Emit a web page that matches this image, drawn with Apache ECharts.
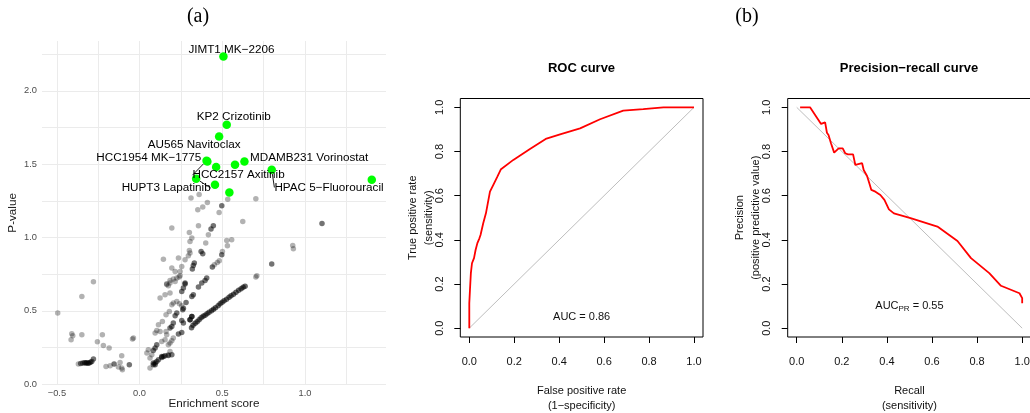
<!DOCTYPE html>
<html>
<head>
<meta charset="utf-8">
<script src="https://cdn.jsdelivr.net/npm/echarts@6/dist/echarts.min.js"></script>
<style>
  html, body { margin: 0; padding: 0; background: #fff; }
  #chart { width: 1030px; height: 413px; }
</style>
</head>
<body>
<div id="chart"></div>
<script>
// ---- (a) enrichment score vs P-value ----
// isolated drug / cell-line pairs
const pairsSparse = [
  [-0.279,0.699],[-0.349,0.599],[-0.495,0.485],[-0.41,0.344],[-0.404,0.331],[-0.414,0.303],
  [-0.349,0.337],[-0.225,0.337],[-0.255,0.29],[-0.219,0.265],[-0.184,0.247],[-0.043,0.308],
  [-0.108,0.194],[-0.118,0.149],[-0.37,0.138],[-0.203,0.121],[-0.178,0.126],[-0.128,0.117],
  [-0.108,0.11],[-0.104,0.099],[-0.037,0.315],
  [0.311,1.269],[0.36,1.294],[0.703,1.264],[0.533,1.262],[0.41,1.239],[0.382,1.208],[0.352,1.19],
  [0.481,1.171],[0.624,1.11],[0.195,1.065],[0.356,1.08],[0.301,1.035],[0.416,1.019],[0.316,0.997],
  [0.305,0.973],[0.4,0.963],[0.527,0.98],[0.557,0.985],[0.531,0.944],[0.301,0.912],[0.305,0.894],
  [0.501,0.905],[0.144,0.853],[0.235,0.86],[0.275,0.849],[0.295,0.876],[0.482,0.842],[0.47,0.83],
  [0.452,0.815],[0.195,0.792],[0.255,0.803],[0.215,0.769],[0.245,0.769],[0.184,0.708],[0.204,0.717],
  [0.225,0.724],[0.245,0.74],[0.239,0.731],[0.164,0.685],[0.174,0.671],[0.709,0.74],[0.703,0.731],
  [0.164,0.68],[0.184,0.69],[0.215,0.701],[0.184,0.622],[0.154,0.61],[0.124,0.588],[0.225,0.564],
  [0.204,0.554],[0.195,0.542],[0.241,0.549],[0.255,0.535],[0.18,0.496],[0.16,0.474],[0.138,0.428],
  [0.114,0.406],[0.104,0.367],[0.124,0.36],[0.094,0.349],[0.16,0.36],[0.164,0.337],[0.154,0.303],
  [0.134,0.292],[0.204,0.315],[0.195,0.297],[0.184,0.281],[0.174,0.269],[0.053,0.235],[0.044,0.213],
  [0.074,0.201],[0.063,0.179],[0.184,0.224],[0.174,0.201],[0.063,0.11],[0.926,0.946],[0.93,0.924]
];
// pairs that sit on top of one another (several observations per spot)
const pairsStacked = [
  [-0.356,0.142],[-0.343,0.145],[-0.332,0.147],[-0.325,0.145],[-0.319,0.146],[-0.312,0.144],
  [-0.305,0.145],[-0.297,0.15],[-0.289,0.155],[-0.279,0.172],[-0.154,0.138],[-0.062,0.133],
  [0.497,1.217],[0.446,1.08],[0.432,1.058],[0.372,0.905],[0.382,0.89],[0.497,0.883],[0.331,0.826],
  [0.325,0.81],[0.44,0.799],[0.319,0.785],[0.406,0.724],[0.396,0.708],[0.275,0.683],[0.275,0.69],
  [0.265,0.656],[0.255,0.633],[0.376,0.69],[0.356,0.663],[0.325,0.61],[0.316,0.599],[0.281,0.558],
  [0.265,0.519],[0.261,0.508],[0.225,0.485],[0.215,0.467],[0.255,0.435],[0.265,0.417],[0.204,0.417],
  [0.195,0.394],[0.184,0.383],[0.255,0.353],[0.235,0.342],[0.104,0.269],[0.094,0.247],[0.083,0.23],
  [0.144,0.19],[0.134,0.183],[0.114,0.167],[0.094,0.145],[0.083,0.133],[1.103,1.096],[0.799,0.819],
  [0.316,0.462],[0.305,0.44],
  [0.083,0.145],[0.104,0.155],[0.134,0.19],[0.154,0.194],[0.174,0.196],[0.195,0.201],[0.094,0.133]
];
// the long dense run of pairs
const pairsRun = [
  [0.314,0.385],[0.323,0.402],[0.336,0.416],[0.348,0.426],[0.36,0.44],[0.372,0.453],[0.384,0.464],
  [0.396,0.47],[0.408,0.481],[0.42,0.491],[0.435,0.501],[0.447,0.511],[0.459,0.521],[0.475,0.535],
  [0.487,0.549],[0.499,0.559],[0.511,0.569],[0.526,0.579],[0.541,0.593],[0.553,0.603],[0.568,0.614],
  [0.583,0.627],[0.599,0.641],[0.614,0.651],[0.626,0.661],[0.638,0.668],[0.316,0.462],[0.305,0.44]
];
// highlighted pairs and their names
const hitPairs = [
  [0.507,2.234],[0.527,1.769],[0.481,1.689],[0.41,1.519],[0.405,1.524],[0.463,1.481],[0.577,1.496],
  [0.634,1.519],[0.799,1.462],[1.404,1.394],[0.342,1.401],[0.456,1.36],[0.543,1.307]
];
const hitNames = [
  'JIMT1 MK\u22122206','KP2 Crizotinib','AU565 Navitoclax','HCC1954 MK\u22121775','HCC2157 Axitinib','',
  '','MDAMB231 Vorinostat','HPAC 5\u2212Fluorouracil','','HUPT3 Lapatinib','',''
];
const scoreTicks = [-0.5, 0, 0.5, 1.0];
const pvalTicks = [0, 0.5, 1.0, 1.5, 2.0];

// ---- (b) ROC and precision-recall ----
const rocCurve = [
  [0,0],[0,0.113],[0.003,0.173],[0.007,0.249],[0.012,0.294],[0.021,0.317],[0.028,0.354],[0.036,0.385],
  [0.045,0.407],[0.05,0.422],[0.062,0.475],[0.074,0.52],[0.092,0.618],[0.107,0.649],[0.125,0.686],
  [0.141,0.72],[0.196,0.762],[0.27,0.811],[0.34,0.857],[0.404,0.878],[0.493,0.905],[0.582,0.946],
  [0.685,0.985],[0.774,0.992],[0.864,1.0],[1,1]
];
const rocChance = [[0,0],[1,1]];
const prCurve = [
  [0.015,1.0],[0.059,1.0],[0.108,0.925],[0.126,0.932],[0.134,0.938],[0.134,0.885],[0.141,0.875],
  [0.149,0.879],[0.152,0.837],[0.159,0.845],[0.166,0.795],[0.186,0.814],[0.204,0.814],[0.215,0.792],
  [0.227,0.787],[0.25,0.787],[0.26,0.739],[0.29,0.747],[0.297,0.716],[0.312,0.689],[0.322,0.656],
  [0.331,0.626],[0.349,0.618],[0.371,0.603],[0.389,0.581],[0.409,0.538],[0.431,0.52],[0.505,0.498],
  [0.624,0.46],[0.713,0.395],[0.773,0.317],[0.854,0.249],[0.906,0.192],[0.988,0.158],[1.0,0.136],[1.0,0.113]
];
const prChance = [[0,1],[1,0]];
const unitTicks = [0, 0.2, 0.4, 0.6, 0.8, 1.0];
const rocAuc = 0.86;
const prAuc = 0.55;

// label nudges for the highlighted names (px), and which ones get a leader segment
const labelNudge = [[8,-7],[7,-7.5],[-25,8.3],[-58.6,-4],[32,14.5],[0,0],[0,0],[64.7,-4],[57.3,17.7],[0,0],[-30,9.3],[0,0],[0,0]];
const withSegment = [4, 8, 10];

const SANS = '"Liberation Sans", Arial, Helvetica, sans-serif';
const minus = v => String(v.toFixed(1)).replace('-', '\u2212');

function ggAxis(dim, gi, min, max, ticks, name, gap) {
  const minor = [];
  for (let i = 0; i < ticks.length; i++) {
    minor.push(ticks[i]);
    if (i < ticks.length - 1) minor.push((ticks[i] + ticks[i + 1]) / 2);
  }
  minor.push(ticks[ticks.length - 1] + (ticks[1] - ticks[0]) / 2);
  return {
    type: 'value', gridIndex: gi, min, max,
    axisLine: { show: false }, axisTick: { show: false, customValues: minor },
    splitLine: { show: true, lineStyle: { color: '#ebebeb', width: 1 } },
    axisLabel: {
      customValues: ticks, formatter: minus, color: '#4d4d4d', fontSize: 9.3,
      fontFamily: SANS, margin: dim === 'x' ? 4 : 5
    },
    name, nameLocation: 'middle', nameGap: gap, nameMoveOverlap: false,
    nameRotate: dim === 'y' ? 90 : 0,
    nameTextStyle: { color: '#1a1a1a', fontSize: 11.7, fontFamily: SANS, lineHeight: 14 }
  };
}

function rAxis(dim, gi, name, gap) {
  return {
    type: 'value', gridIndex: gi, min: -0.04, max: 1.04,
    axisLine: { show: false, onZero: false },
    axisTick: { show: true, inside: false, length: 6, customValues: unitTicks, lineStyle: { color: '#000', width: 1 } },
    splitLine: { show: false },
    axisLabel: {
      customValues: unitTicks, formatter: v => v.toFixed(1), color: '#111', fontSize: 11,
      fontFamily: SANS, margin: dim === 'x' ? 19 : 15, rotate: dim === 'y' ? 90 : 0
    },
    name, nameLocation: 'middle', nameGap: gap, nameMoveOverlap: false,
    nameRotate: dim === 'y' ? 90 : 0,
    nameTextStyle: { color: '#111', fontSize: 11, fontFamily: SANS, lineHeight: 15.5 }
  };
}

const chart = echarts.init(document.getElementById('chart'), null, { renderer: 'canvas' });

chart.setOption({
  animation: false,
  backgroundColor: '#fff',
  title: [
    { text: '(a)', left: 198, top: 7, textAlign: 'center', padding: 0,
      textStyle: { fontFamily: '"Liberation Serif", "Times New Roman", serif', fontWeight: 'normal', fontSize: 20, color: '#000' } },
    { text: '(b)', left: 747, top: 7, textAlign: 'center', padding: 0,
      textStyle: { fontFamily: '"Liberation Serif", "Times New Roman", serif', fontWeight: 'normal', fontSize: 20, color: '#000' } },
    { text: 'ROC curve', left: 581.5, top: 61.5, textAlign: 'center', padding: 0,
      textStyle: { fontFamily: SANS, fontWeight: 'bold', fontSize: 13, color: '#000' } },
    { text: 'Precision\u2212recall curve', left: 909, top: 61.5, textAlign: 'center', padding: 0,
      textStyle: { fontFamily: SANS, fontWeight: 'bold', fontSize: 13, color: '#000' } }
  ],
  grid: [
    { left: 42, top: 41, width: 344, height: 343.7, outerBoundsMode: 'none', containLabel: false },
    { left: 460.3, top: 98.5, width: 242.7, height: 238.5, outerBoundsMode: 'none', containLabel: false,
      show: true, borderColor: '#000', borderWidth: 1, backgroundColor: 'transparent' },
    { left: 787.7, top: 98.5, width: 243.5, height: 238.5, outerBoundsMode: 'none', containLabel: false,
      show: true, borderColor: '#000', borderWidth: 1, backgroundColor: 'transparent' }
  ],
  xAxis: [
    ggAxis('x', 0, -0.59, 1.49, scoreTicks, 'Enrichment score', 12.3),
    rAxis('x', 1, 'False positive rate\n(1\u2212specificity)', 46),
    rAxis('x', 2, 'Recall\n(sensitivity)', 46)
  ],
  yAxis: [
    ggAxis('y', 0, -0.003, 2.34, pvalTicks, 'P-value', 22),
    rAxis('y', 1, 'True positive rate\n(sensitivity)', 24),
    rAxis('y', 2, 'Precision\n(positive predictive value)', 24)
  ],
  series: [
    { type: 'scatter', xAxisIndex: 0, yAxisIndex: 0, data: pairsSparse, symbolSize: 5.5,
      itemStyle: { color: '#000', opacity: 0.3 }, silent: true },
    { type: 'scatter', xAxisIndex: 0, yAxisIndex: 0, data: pairsStacked, symbolSize: 5.5,
      itemStyle: { color: '#000', opacity: 0.55 }, silent: true },
    { type: 'scatter', xAxisIndex: 0, yAxisIndex: 0, data: pairsRun, symbolSize: 5.5,
      itemStyle: { color: '#000', opacity: 0.6 }, silent: true },
    { type: 'scatter', xAxisIndex: 0, yAxisIndex: 0, symbolSize: 8.5, silent: true,
      itemStyle: { color: '#00ff00', opacity: 1 },
      data: hitPairs.map((p, i) => ({
        value: p,
        labelLine: { show: withSegment.indexOf(i) >= 0 }
      })),
      label: {
        show: true, position: 'inside', formatter: p => hitNames[p.dataIndex],
        color: '#000', fontSize: 11.7, fontFamily: SANS
      },
      labelLine: { show: false, lineStyle: { color: '#000', width: 0.9 } },
      labelLayout: p => ({ dx: labelNudge[p.dataIndex][0], dy: labelNudge[p.dataIndex][1] })
    },
    { type: 'line', xAxisIndex: 1, yAxisIndex: 1, data: rocChance, showSymbol: false, silent: true,
      lineStyle: { color: '#bebebe', width: 1 } },
    { type: 'line', xAxisIndex: 1, yAxisIndex: 1, data: rocCurve, showSymbol: false, silent: true,
      lineStyle: { color: '#ff0000', width: 1.8 },
      markPoint: { symbol: 'circle', symbolSize: 0, silent: true,
        data: [{ coord: [0.5, 0.05] }],
        label: { show: true, position: 'inside', formatter: () => 'AUC = ' + rocAuc.toFixed(2),
          color: '#111', fontSize: 11, fontFamily: SANS } } },
    { type: 'line', xAxisIndex: 2, yAxisIndex: 2, data: prChance, showSymbol: false, silent: true,
      lineStyle: { color: '#bebebe', width: 1 } },
    { type: 'line', xAxisIndex: 2, yAxisIndex: 2, data: prCurve, showSymbol: false, silent: true,
      lineStyle: { color: '#ff0000', width: 1.8 },
      markPoint: { symbol: 'circle', symbolSize: 0, silent: true,
        data: [{ coord: [0.5, 0.1] }],
        label: { show: true, position: 'inside',
          formatter: () => '{a|AUC}{s|PR}{a| = ' + prAuc.toFixed(2) + '}',
          rich: {
            a: { color: '#111', fontSize: 11, fontFamily: SANS },
            s: { color: '#111', fontSize: 8, fontFamily: SANS, padding: [5, 0, 0, 0] }
          } } } }
  ]
});
</script>
</body>
</html>
